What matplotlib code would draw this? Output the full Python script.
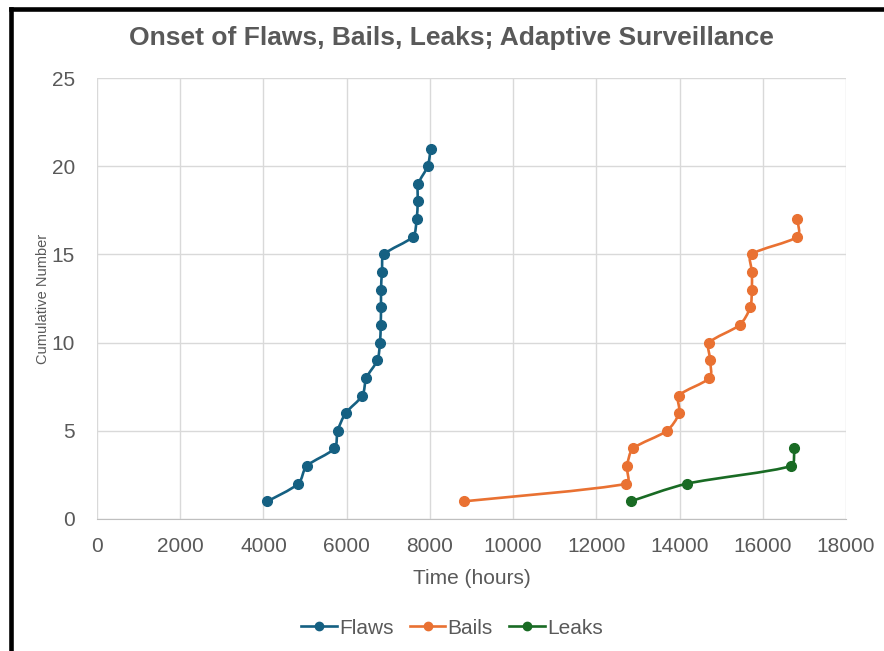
import numpy as np
import matplotlib
matplotlib.use("Agg")
import matplotlib.pyplot as plt
from matplotlib.path import Path
from matplotlib.patches import PathPatch
from matplotlib.lines import Line2D

# data
flaws_hours = [4093, 4838, 5039, 5704, 5784, 5977, 6377, 6473, 6737, 6801, 6818,
               6826, 6826, 6849, 6905, 7587, 7683, 7707, 7723, 7947, 8019]
flaws_count = list(range(1, 22))

bails_hours = [8812, 12721, 12737, 12889, 13692, 13989, 13989, 14719, 14735, 14719,
               15441, 15698, 15738, 15738, 15730, 16830, 16830]
bails_count = list(range(1, 18))

leaks_hours = [12825, 14173, 16669, 16758]
leaks_count = [1, 2, 3, 4]

series_names = ["Flaws", "Bails", "Leaks"]
series_colors = ["#156082", "#E97132", "#196B24"]

x_ticks = list(range(0, 18001, 2000))
y_ticks = list(range(0, 26, 5))

TEXT_GRAY = "#595959"
plt.rcParams["font.family"] = ["Liberation Sans", "DejaVu Sans"]

X_MAX, Y_MAX = 18000, 25
AX_LEFT, AX_RIGHT, AX_TOP, AX_BOTTOM = 97, 846, 78, 519   # pixels


def smooth_path(xs, ys, sx, sy):
    # excel-like smoothed line, tangents worked out in screen space and
    # clamped so that short steps don't loop around
    pts = np.column_stack([np.asarray(xs) * sx, np.asarray(ys) * sy]).astype(float)
    n = len(pts)
    verts = [pts[0]]
    codes = [Path.MOVETO]
    for i in range(n - 1):
        p0 = pts[i - 1] if i > 0 else pts[i]
        p1 = pts[i]
        p2 = pts[i + 1]
        p3 = pts[i + 2] if i + 2 < n else pts[i + 1]
        seg = np.hypot(*(p2 - p1))
        t1 = (p2 - p0) / 6.0
        t2 = (p3 - p1) / 6.0
        for t in (t1, t2):
            ln = np.hypot(*t)
            if ln > 0.3 * seg:
                t *= 0.3 * seg / ln
        verts += [p1 + t1, p2 - t2, p2]
        codes += [Path.CURVE4] * 3
    verts = np.array(verts) / [sx, sy]
    return Path(verts, codes)


fig = plt.figure(figsize=(8.84, 6.51), dpi=100)
ax = fig.add_axes([AX_LEFT / 884, 1 - AX_BOTTOM / 651,
                   (AX_RIGHT - AX_LEFT) / 884, (AX_BOTTOM - AX_TOP) / 651])
sx = (AX_RIGHT - AX_LEFT) / X_MAX
sy = (AX_BOTTOM - AX_TOP) / Y_MAX

all_series = [(flaws_hours, flaws_count), (bails_hours, bails_count), (leaks_hours, leaks_count)]
handles = []
for (xs, ys), name, col in zip(all_series, series_names, series_colors):
    ax.add_patch(PathPatch(smooth_path(xs, ys, sx, sy), facecolor="none", edgecolor=col,
                           lw=1.9, zorder=3, capstyle="round"))
    ax.plot(xs, ys, ls="none", marker="o", ms=7, color=col, zorder=4)
    handles.append(Line2D([], [], color=col, lw=1.9, marker="o", ms=6, label=name))

ax.set_xlim(0, X_MAX)
ax.set_ylim(0, Y_MAX)
ax.set_xticks(x_ticks)
ax.set_yticks(y_ticks)
ax.grid(True, color="#D9D9D9", lw=1)
ax.set_axisbelow(True)
for side in ["top", "right", "left"]:
    ax.spines[side].set_visible(False)
ax.spines["bottom"].set_color("#BFBFBF")
ax.tick_params(length=0, labelsize=15, colors=TEXT_GRAY)
ax.tick_params(axis="x", pad=13)
ax.tick_params(axis="y", pad=16)

ax.set_xlabel("Time (hours)", fontsize=15, color=TEXT_GRAY, labelpad=9)
ax.set_ylabel("Cumulative Number", fontsize=10.5, color=TEXT_GRAY, labelpad=1)

fig.text(451 / 884, 1 - 38 / 651, "Onset of Flaws, Bails, Leaks; Adaptive Surveillance",
         ha="center", va="center", fontsize=19, fontweight="bold", color=TEXT_GRAY,
         family=["Liberation Sans Narrow", "Liberation Sans", "DejaVu Sans"])

fig.legend(handles=handles, loc="center", bbox_to_anchor=(452 / 884, 1 - 628 / 651),
           ncol=3, frameon=False, fontsize=15, labelcolor=TEXT_GRAY,
           handlelength=1.7, handletextpad=0.1, columnspacing=0.8)

# black frame on the left and top edges of the screenshot
fig.add_artist(Line2D([10.5 / 884, 10.5 / 884], [0, 1 - 8.5 / 651], color="black",
                      lw=3.3, transform=fig.transFigure, solid_capstyle="projecting"))
fig.add_artist(Line2D([10.5 / 884, 1], [1 - 8.5 / 651, 1 - 8.5 / 651], color="black",
                      lw=3.3, transform=fig.transFigure, solid_capstyle="projecting"))

fig.savefig("out.png", dpi=100)
